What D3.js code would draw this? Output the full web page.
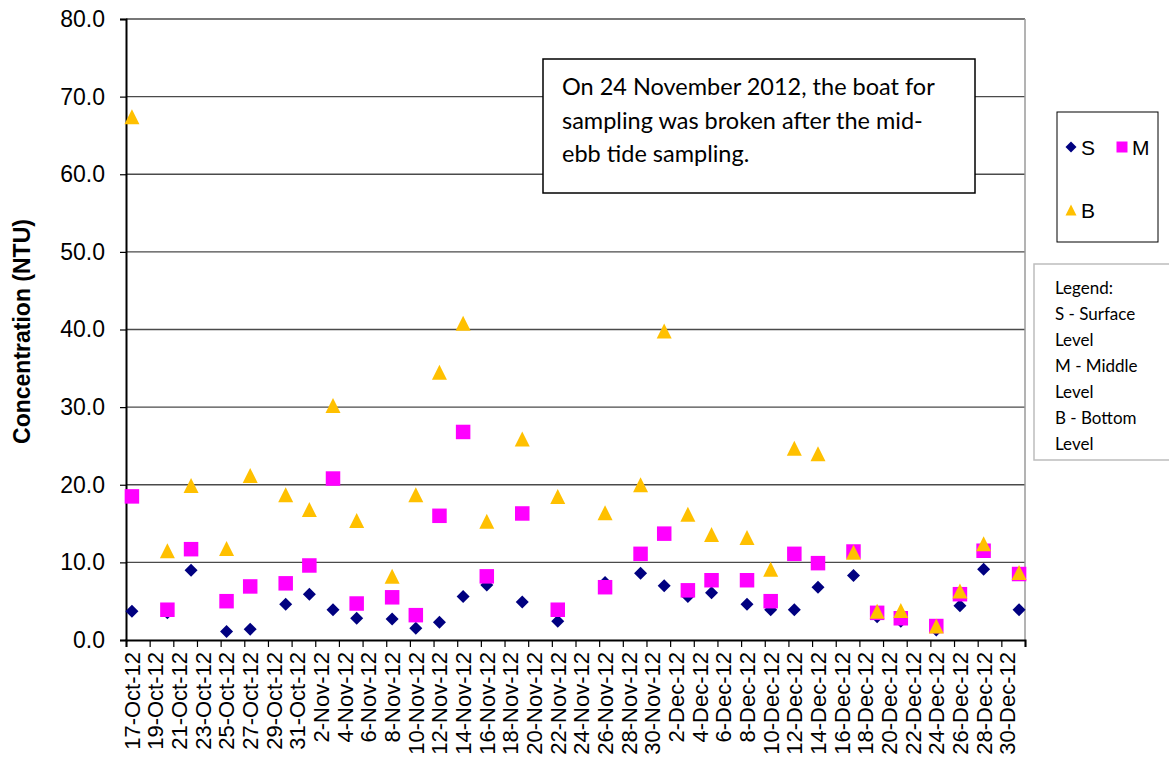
<!DOCTYPE html>
<html lang="en">
<head>
    <meta charset="UTF-8">
    <title>Turbidity concentration, Oct - Dec 2012</title>
    <script src="https://d3js.org/d3.v7.min.js"></script>
    <style>
        body { margin: 0; background-color: #fff; }
        svg { display: block; font-family: "Liberation Sans", Arial, sans-serif; }
        .grid line { stroke: #4a4a4a; stroke-width: 1.3; }
        .note { font-family: Lato, "Open Sans", sans-serif; }
    </style>
</head>
<body>
    <div id="chart"></div>
    <script type="text/javascript">
        // sampling dates (2012) and readings at surface / middle / bottom
        const dates = ["17-Oct", "20-Oct", "22-Oct", "25-Oct", "27-Oct", "30-Oct", "1-Nov", "3-Nov", "5-Nov", "8-Nov",
                       "10-Nov", "12-Nov", "14-Nov", "16-Nov", "19-Nov", "22-Nov", "26-Nov", "29-Nov", "1-Dec", "3-Dec",
                       "5-Dec", "8-Dec", "10-Dec", "12-Dec", "14-Dec", "17-Dec", "19-Dec", "21-Dec", "24-Dec", "26-Dec",
                       "28-Dec", "31-Dec"];
        const S = [3.7, 3.5, 9.0, 1.1, 1.4, 4.6, 5.9, 3.9, 2.8, 2.7, 1.5, 2.3, 5.6, 7.1, 4.9, 2.4, 7.4, 8.6, 7.0, 5.6,
                   6.1, 4.6, 3.9, 3.9, 6.8, 8.3, 3.0, 2.4, 1.3, 4.4, 9.1, 3.9];
        const M = [18.5, 3.9, 11.7, 5.0, 6.9, 7.3, 9.6, 20.8, 4.7, 5.5, 3.2, 16.0, 26.8, 8.2, 16.3, 3.9, 6.8, 11.1, 13.7, 6.4,
                   7.7, 7.7, 5.0, 11.1, 9.9, 11.4, 3.5, 2.8, 1.8, 5.9, 11.5, 8.5];
        const B = [67.4, 11.5, 19.9, 11.8, 21.2, 18.7, 16.8, 30.2, 15.4, 8.2, 18.7, 34.5, 40.8, 15.3, 25.9, 18.5, 16.4, 20.0, 39.8, 16.2,
                   13.6, 13.2, 9.1, 24.7, 24.0, 11.3, 3.7, 3.8, 1.8, 6.3, 12.4, 8.7];
        const yTicks = [0, 10, 20, 30, 40, 50, 60, 70, 80];
        const noteLines = ["On 24 November 2012, the boat for", "sampling was broken after the mid-", "ebb tide sampling."];
        const legendLines = ["Legend:", "S - Surface", "Level", "M - Middle", "Level", "B - Bottom", "Level"];

        const W = 1169, H = 770;
        const plot = {left: 126, right: 1025, top: 19, bottom: 640};
        const parse = d3.utcParse("%d-%b-%Y");
        const day = 864e5;

        const start = parse("17-Oct-2012"), end = parse("1-Jan-2013");
        const x = d3.scaleUtc().domain([start, end]).range([plot.left, plot.right]);
        const y = d3.scaleLinear().domain([0, 80]).range([plot.bottom, plot.top]);

        const series = [
            {name: "S", values: S, color: "#000080", shape: "diamond"},
            {name: "M", values: M, color: "#ff00ff", shape: "square"},
            {name: "B", values: B, color: "#ffc000", shape: "triangle"}
        ];

        function shapePath(shape, s) {
            const h = s / 2;
            if (shape === "diamond") return `M0,${-h}L${h},0L0,${h}L${-h},0Z`;
            if (shape === "square") return `M${-h},${-h}H${h}V${h}H${-h}Z`;
            return `M0,${-h}L${h},${h}L${-h},${h}Z`;
        }
        const markerSize = {diamond: 13, square: 14.5, triangle: 15};

        const svg = d3.select("#chart").append("svg")
            .attr("width", W)
            .attr("height", H);
        svg.append("rect").attr("width", W).attr("height", H).attr("fill", "#fff");

        // gridlines
        svg.append("g").attr("class", "grid")
            .selectAll("line")
            .data(yTicks.filter(d => d > 0))
            .join("line")
            .attr("x1", plot.left).attr("x2", plot.right)
            .attr("y1", d => y(d)).attr("y2", d => y(d));

        // right border of plot area
        svg.append("line")
            .attr("x1", plot.right).attr("x2", plot.right)
            .attr("y1", plot.top).attr("y2", plot.bottom)
            .attr("stroke", "#9a9a9a").attr("stroke-width", 1.5);

        // x axis: tick marks every second day, labels centred on the day
        const tickDates = d3.utcDay.range(start, end).filter((d, i) => i % 2 === 0);
        const fmt = d3.utcFormat("%-d-%b-%y");

        const xAxis = svg.append("g")
            .attr("transform", "translate(0," + plot.bottom + ")")
            .call(d3.axisBottom(x).tickValues(tickDates.concat([end])).tickSize(7).tickFormat(""));
        xAxis.select(".domain").attr("stroke", "#000").attr("stroke-width", 2);
        xAxis.selectAll(".tick line").attr("stroke", "#000").attr("stroke-width", 1.2);

        svg.append("g")
            .attr("font-size", 22)
            .selectAll("text")
            .data(tickDates)
            .join("text")
            .attr("transform", d => `translate(${x(new Date(+d + day / 2))},${plot.bottom + 12}) rotate(-90)`)
            .attr("text-anchor", "end")
            .attr("dy", "0.36em")
            .attr("fill", "#000")
            .text(d => fmt(d));

        // y axis
        const yAxis = svg.append("g")
            .attr("transform", "translate(" + plot.left + ",0)")
            .call(d3.axisLeft(y).tickValues(yTicks).tickSize(6).tickPadding(15).tickFormat(d3.format(".1f")));
        yAxis.select(".domain").attr("stroke", "#000").attr("stroke-width", 2);
        yAxis.selectAll(".tick line").attr("stroke", "#000").attr("stroke-width", 1.2);
        yAxis.selectAll(".tick text").attr("font-size", 23).attr("font-family", "Liberation Sans, Arial, sans-serif").attr("fill", "#000");

        svg.append("text")
            .attr("transform", `translate(30,${(plot.top + plot.bottom) / 2 + 2}) rotate(-90)`)
            .attr("text-anchor", "middle")
            .attr("font-size", 23)
            .attr("font-weight", "bold")
            .text("Concentration (NTU)");

        // markers, S then M then B so bottom readings sit on top
        series.forEach(s => {
            svg.append("g")
                .selectAll("path")
                .data(s.values)
                .join("path")
                .attr("transform", (v, i) => `translate(${x(new Date(+parse(dates[i] + "-2012") + day / 2))},${y(v)})`)
                .attr("d", shapePath(s.shape, markerSize[s.shape]))
                .attr("fill", s.color);
        });

        // note box
        const note = svg.append("g").attr("class", "note");
        note.append("rect")
            .attr("x", 543).attr("y", 59).attr("width", 432).attr("height", 134)
            .attr("fill", "#fff").attr("stroke", "#000").attr("stroke-width", 1.5);
        note.selectAll("text")
            .data(noteLines)
            .join("text")
            .attr("x", 562)
            .attr("y", (d, i) => 95 + i * 33.5)
            .attr("font-size", 23.5)
            .text(d => d);

        // series legend
        const leg = svg.append("g");
        leg.append("rect")
            .attr("x", 1057).attr("y", 112).attr("width", 101).attr("height", 130)
            .attr("fill", "#fff").attr("stroke", "#000").attr("stroke-width", 1);
        const legPos = [[1071, 147], [1122, 147], [1071, 210]];
        series.forEach((s, i) => {
            leg.append("path")
                .attr("transform", `translate(${legPos[i][0]},${legPos[i][1]})`)
                .attr("d", shapePath(s.shape, 11))
                .attr("fill", s.color);
            leg.append("text")
                .attr("x", legPos[i][0] + 10)
                .attr("y", legPos[i][1])
                .attr("dy", "0.36em")
                .attr("font-size", 21)
                .text(s.name);
        });

        // text legend
        const leg2 = svg.append("g").attr("class", "note");
        leg2.append("rect")
            .attr("x", 1034).attr("y", 264).attr("width", 150).attr("height", 196)
            .attr("fill", "#fff").attr("stroke", "#bdbdbd").attr("stroke-width", 1.5);
        leg2.selectAll("text")
            .data(legendLines)
            .join("text")
            .attr("x", 1055)
            .attr("y", (d, i) => 294 + i * 26)
            .attr("font-size", 17)
            .text(d => d);
    </script>
</body>
</html>
